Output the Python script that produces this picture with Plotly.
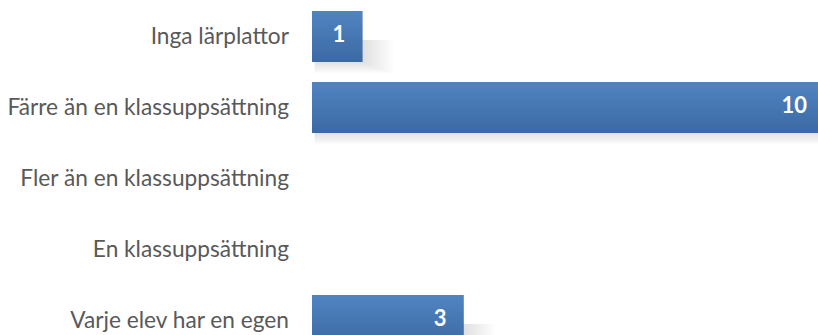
import plotly.graph_objects as go

categories = ["Inga lärplattor", "Färre än en klassuppsättning", "Fler än en klassuppsättning",
              "En klassuppsättning", "Varje elev har en egen"]
values = [1, 10, 0, 0, 3]
labels = ["1", "10", "", "", "3"]

half = 0.36          # half bar thickness in category units
positions = list(range(len(categories)))

fig = go.Figure()

# soft shadows (many layered, very low opacity to imitate blur)
layers = 10
for pos, v in zip(positions, values):
    if v <= 0:
        continue
    for k in range(layers):
        t = (k + 1) / layers
        dx = 0.6 * t
        dy = 0.16 * t
        x0, x1 = 0.05, v + dx
        y0, y1 = pos + 0.05, pos + half + dy
        fig.add_trace(go.Scatter(
            x=[x0, x1, x1, x0, x0], y=[y0, y0, y1, y1, y0],
            mode="lines", fill="toself", line=dict(width=0),
            fillcolor="rgba(0,0,0,0.012)", hoverinfo="skip",
        ))

# gradient bars
for pos, v in zip(positions, values):
    if v <= 0:
        continue
    fig.add_trace(go.Scatter(
        x=[0, v, v, 0, 0], y=[pos - half, pos - half, pos + half, pos + half, pos - half],
        mode="lines", fill="toself", line=dict(width=0),
        fillgradient=dict(type="vertical",
                          colorscale=[[0, "#3c69a3"], [0.5, "#4677b3"], [1, "#5084c1"]]),
        hoverinfo="skip",
    ))

label_x = [v - 0.47 for v in values]
fig.add_trace(go.Scatter(
    y=positions, x=label_x, mode="text", text=labels,
    textposition="middle center",
    textfont=dict(family="Lato", size=22, color="white", weight="bold"),
    hoverinfo="skip",
))
fig.update_layout(
    width=818, height=335,
    margin=dict(l=312, r=0, t=0, b=0),
    paper_bgcolor="white", plot_bgcolor="white",
    showlegend=False,
    xaxis=dict(range=[0, 10.0], visible=False, fixedrange=True),
    yaxis=dict(tickmode="array", tickvals=positions, ticktext=categories,
               range=[4.204, -0.514], showgrid=False, zeroline=False,
               showline=False, ticks="", ticklabelstandoff=22, fixedrange=True,
               tickfont=dict(family="Lato", size=22.7, color="#595959")),
)
fig.write_html("out.html")
